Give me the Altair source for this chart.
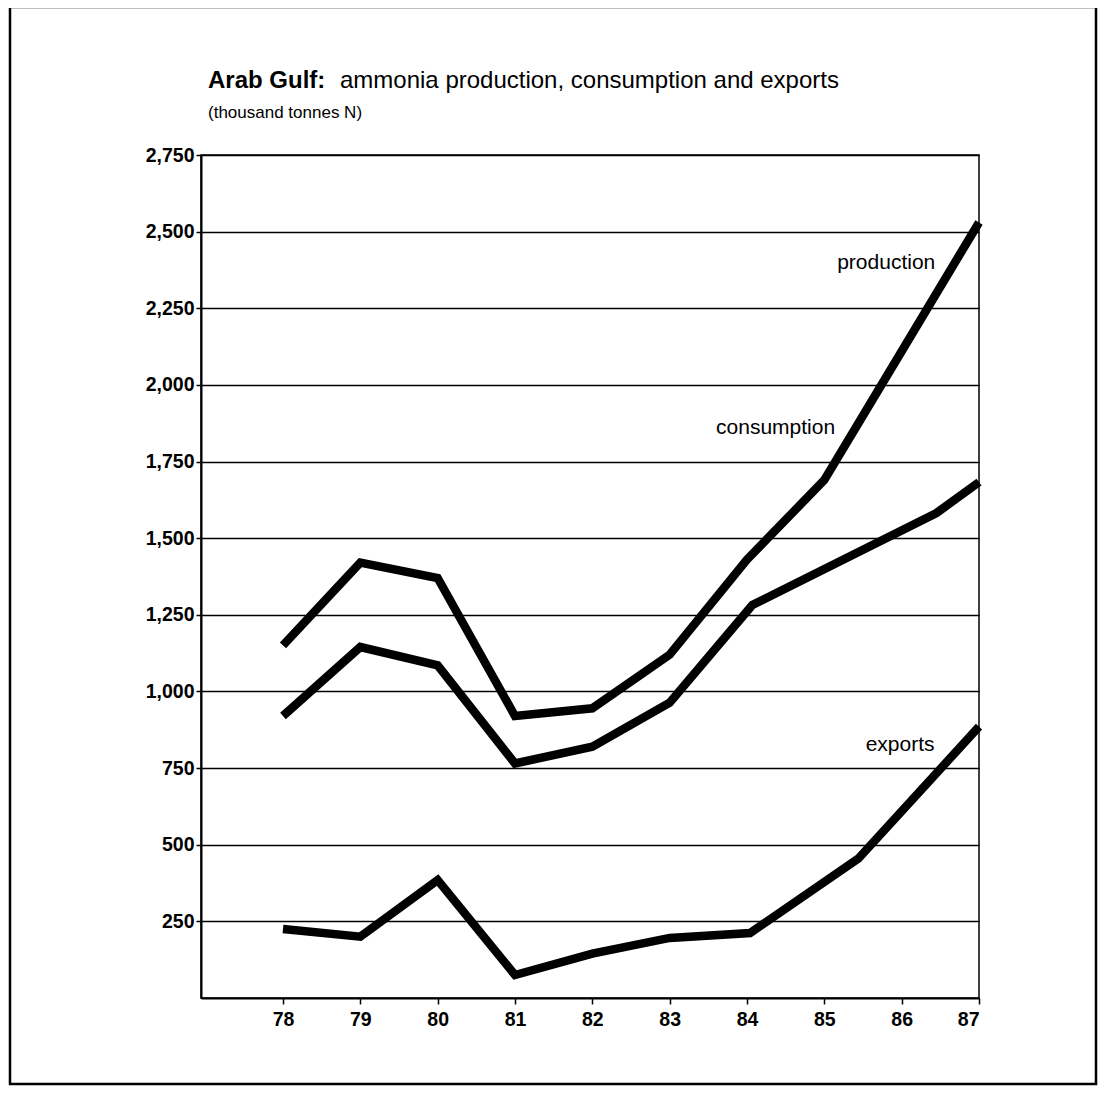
import altair as alt
import pandas as pd

# ---- data (thousand tonnes N) ----
years_production = [78, 79, 80, 81, 82, 83, 84, 85, 86, 87]
production = [1150, 1420, 1370, 920, 945, 1120, 1430, 1690, 2110, 2530]

years_consumption = [78, 79, 80, 81, 82, 83, 84.07, 86.45, 87]
consumption = [920, 1145, 1085, 765, 820, 963, 1282, 1582, 1683]

years_exports = [78, 79, 80, 81, 82, 83, 84.04, 85.44, 87]
exports = [225, 200, 385, 75, 145, 196, 212, 455, 885]

y_ticks = [250, 500, 750, 1000, 1250, 1500, 1750, 2000, 2250, 2500, 2750]
x_ticks = [78, 79, 80, 81, 82, 83, 84, 85, 86, 87]

series_names = ["production", "consumption", "exports"]
label_years = [85.8, 84.37, 85.98]
label_values = [2398, 1859, 825]

title_bold = "Arab Gulf:"
title_rest = "ammonia production, consumption and exports"
subtitle = "(thousand tonnes N)"

FONT = "Liberation Sans"
W, H = 778, 843

rows = []
for name, xs, ys in [("production", years_production, production),
                     ("consumption", years_consumption, consumption),
                     ("exports", years_exports, exports)]:
    for i, (x, y) in enumerate(zip(xs, ys)):
        rows.append({"series": name, "year": x, "value": y, "idx": i})
df = pd.DataFrame(rows)

labels_df = pd.DataFrame({"series": series_names, "year": label_years, "value": label_values})

xscale = alt.Scale(domain=[76.94, 87], nice=False, zero=False)
yscale = alt.Scale(domain=[0, 2750], nice=False, zero=True)

lines = alt.Chart(df).mark_line(
    color="black", strokeWidth=8.5, strokeCap="butt", strokeJoin="miter", strokeMiterLimit=3
).encode(
    x=alt.X("year:Q", scale=xscale,
            axis=alt.Axis(values=x_ticks, format="d", title=None, grid=False,
                          tickSize=6, tickColor="black", tickWidth=1.5,
                          domainColor="black", domainWidth=2,
                          labelFontSize=19.5, labelColor="black", labelFont=FONT,
                          labelFontWeight="bold", labelPadding=6)),
    y=alt.Y("value:Q", scale=yscale,
            axis=alt.Axis(values=y_ticks, format=",d", title=None, grid=True,
                          gridColor="black", gridWidth=1.4, gridOpacity=1,
                          tickSize=5, tickColor="black", tickWidth=1.5,
                          domainColor="black", domainWidth=2,
                          labelFontSize=19.5, labelColor="black", labelFont=FONT,
                          labelFontWeight="bold", labelPadding=2)),
    detail="series:N",
    order="idx:Q",
)

labels = alt.Chart(labels_df).mark_text(
    font=FONT, fontSize=21, color="black", align="center", baseline="middle"
).encode(
    x=alt.X("year:Q", scale=xscale),
    y=alt.Y("value:Q", scale=yscale),
    text="series:N",
)

one = alt.Data(values=[{"a": 1}])

t1 = alt.Chart(one).mark_text(
    text=title_bold, font=FONT, fontSize=24, fontWeight="bold", color="black",
    align="left", baseline="alphabetic"
).encode(x=alt.value(7), y=alt.value(-67))

t2 = alt.Chart(one).mark_text(
    text=title_rest, font=FONT, fontSize=24, color="black",
    align="left", baseline="alphabetic"
).encode(x=alt.value(139), y=alt.value(-67))

t3 = alt.Chart(one).mark_text(
    text=subtitle, font=FONT, fontSize=17, color="black",
    align="left", baseline="alphabetic"
).encode(x=alt.value(7), y=alt.value(-37))

frame = alt.Chart(one).mark_rect(
    fillOpacity=0, stroke="black", strokeWidth=2.5
).encode(x=alt.value(-191), x2=alt.value(895), y=alt.value(-148), y2=alt.value(929))

chart = alt.layer(frame, lines, labels, t1, t2, t3).properties(
    width=W, height=H,
    autosize=alt.AutoSizeParams(type="none"),
    padding={"left": 193, "top": 147, "right": 120, "bottom": 95},
    background="white",
).configure_view(stroke="black", strokeWidth=1.5)

chart.save("out.html", embed_options={"renderer": "svg", "actions": False})
